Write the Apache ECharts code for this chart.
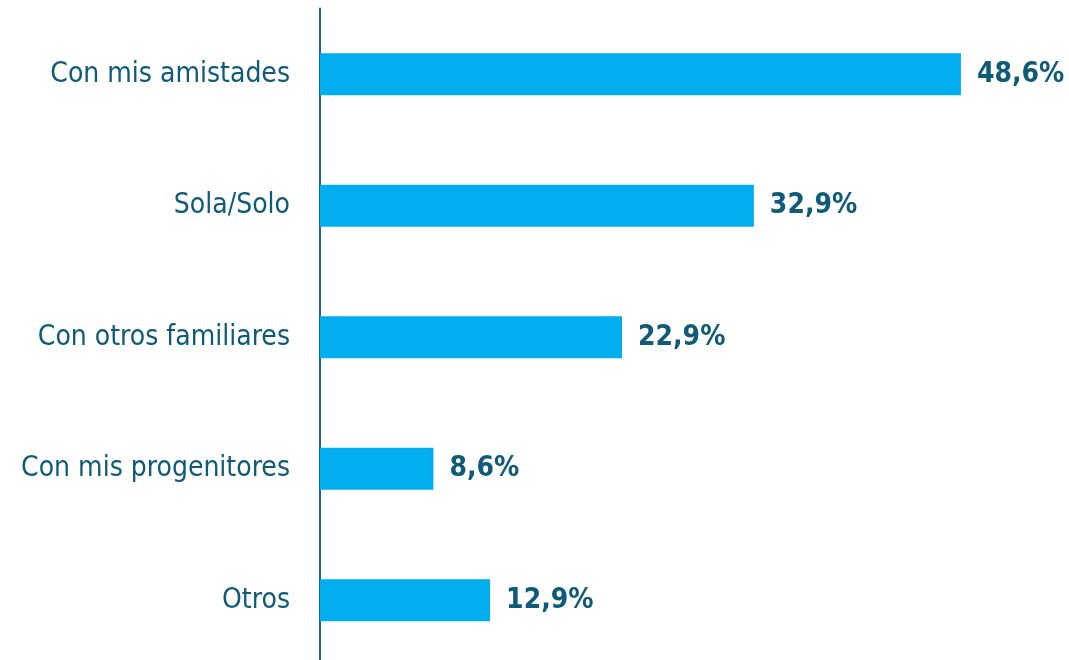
<!DOCTYPE html>
<html><head><meta charset="utf-8">
<script src="https://cdn.jsdelivr.net/npm/echarts@6/dist/echarts.min.js"></script>
<style>html,body{margin:0;padding:0;background:#fff;overflow:hidden}#c{width:1069px;height:672px}</style>
</head><body><div id="c"></div>
<script>
const categories = ["Con mis amistades","Sola/Solo","Con otros familiares","Con mis progenitores","Otros"];
const values = [48.6, 32.9, 22.9, 8.6, 12.9];
const chart = echarts.init(document.getElementById('c'));
chart.setOption({
  animation:false,
  grid:{left:320, top:8.5, width:738.5, height:657.5, containLabel:false},
  xAxis:{type:'value', min:0, max:56, show:false},
  yAxis:{type:'category', data:categories, inverse:true,
    axisLine:{show:true, lineStyle:{color:'#1b6a8a', width:2}},
    axisTick:{show:false},
    axisLabel:{color:'#0e5a78', fontSize:28, fontFamily:'"DejaVu Sans Condensed", sans-serif', margin:30}},
  series:[{type:'bar', data:values, barWidth:42, itemStyle:{color:'#00aeef'},
    label:{show:true, position:'right', distance:16, color:'#0e5a78', fontSize:28, fontWeight:'bold',
      fontFamily:'"DejaVu Sans Condensed", sans-serif',
      formatter:p=>p.value.toFixed(1).replace('.',',')+'%'}}]
});
</script></body></html>
